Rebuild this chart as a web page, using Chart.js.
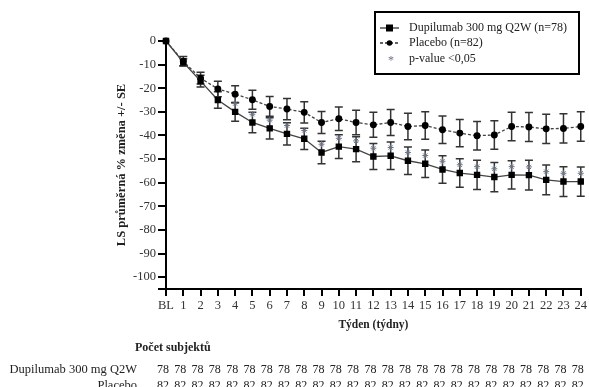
<!DOCTYPE html>
<html>
<head>
<meta charset="utf-8">
<script src="https://cdn.jsdelivr.net/npm/chart.js@4"></script>
<style>
  body { margin: 0; background: #fff; }
  #wrap { width: 589px; height: 387px; }
</style>
</head>
<body>
<div id="wrap"><canvas id="chart" width="589" height="387"></canvas></div>
<script>
const weeks = [0,1,2,3,4,5,6,7,8,9,10,11,12,13,14,15,16,17,18,19,20,21,22,23,24];
const dupilumab = [0,-9,-17,-25,-30,-34.5,-37,-39.3,-41.4,-47.2,-44.7,-45.8,-48.9,-48.6,-50.7,-52,-54.4,-55.9,-56.7,-57.6,-56.7,-56.8,-58.8,-59.5,-59.5];
const dupilumabSE = [0,1.5,2.5,3.5,4,4.3,4.5,4.7,4.5,4.8,5,5.3,5.5,5.8,5.8,5.8,5.8,6,6.2,6.2,6,6.3,6.3,6.3,6.2];
const placebo = [0,-8.6,-15.7,-20.3,-22.5,-24.9,-27.7,-28.8,-30.2,-34.5,-32.9,-34.5,-35.5,-34.5,-36.2,-35.8,-37.6,-39,-40.1,-39.8,-36.2,-36.4,-37.2,-37,-36.2];
const placeboSE = [0,2,2.5,3.3,3.6,4,4.2,4.5,4.5,4.7,5,5.2,5.3,5.5,5.6,5.8,5.8,5.8,6,6,6,6.1,6.2,6.2,6.2];
const sigWeeks = [4,5,6,7,8,9,10,11,12,13,14,15,16,17,18,19,20,21,22,23,24];
const nDupilumab = [78,78,78,78,78,78,78,78,78,78,78,78,78,78,78,78,78,78,78,78,78,78,78,78,78];
const nPlacebo = [82,82,82,82,82,82,82,82,82,82,82,82,82,82,82,82,82,82,82,82,82,82,82,82,82];
const yTicks = [0,-10,-20,-30,-40,-50,-60,-70,-80,-90,-100];

const serif = 'Liberation Serif';

const errorBars = {
  id: 'errorBars',
  beforeDatasetsDraw(chart) {
    const ctx = chart.ctx, x = chart.scales.x, y = chart.scales.y;
    ctx.save();
    ctx.strokeStyle = '#333';
    ctx.lineWidth = 1.5;
    chart.data.datasets.forEach(ds => {
      if (!ds.se) return;
      ds.data.forEach((p, i) => {
        const se = ds.se[i];
        if (!se) return;
        const px = x.getPixelForValue(p.x);
        const top = y.getPixelForValue(p.y + se);
        const bot = y.getPixelForValue(p.y - se);
        ctx.beginPath();
        ctx.moveTo(px, top); ctx.lineTo(px, bot);
        ctx.moveTo(px - 4, top); ctx.lineTo(px + 4, top);
        ctx.moveTo(px - 4, bot); ctx.lineTo(px + 4, bot);
        ctx.stroke();
      });
    });
    ctx.restore();
  }
};

const extras = {
  id: 'extras',
  afterDraw(chart) {
    const ctx = chart.ctx, x = chart.scales.x, area = chart.chartArea;
    ctx.save();
    // axis cross at the origin
    ctx.strokeStyle = '#000';
    ctx.lineWidth = 2;
    ctx.beginPath();
    ctx.moveTo(area.left - 8, area.bottom);
    ctx.lineTo(area.left, area.bottom);
    ctx.stroke();

    // legend box
    ctx.lineWidth = 2;
    ctx.strokeRect(375, 12, 204, 62);
    ctx.fillStyle = '#222';
    ctx.font = '12px "' + serif + '"';
    ctx.textBaseline = 'middle';
    ctx.textAlign = 'left';
    const rows = [
      { y: 28, text: 'Dupilumab 300 mg Q2W (n=78)', kind: 'rect' },
      { y: 43, text: 'Placebo (n=82)', kind: 'circle' },
      { y: 59, text: 'p-value <0,05', kind: 'star' }
    ];
    rows.forEach(r => {
      if (r.kind !== 'star') {
        ctx.strokeStyle = '#333';
        ctx.lineWidth = 1.3;
        ctx.setLineDash(r.kind === 'circle' ? [3, 2] : []);
        ctx.beginPath();
        ctx.moveTo(380, r.y); ctx.lineTo(399, r.y);
        ctx.stroke();
        ctx.setLineDash([]);
        ctx.fillStyle = '#000';
        if (r.kind === 'rect') ctx.fillRect(386, r.y - 3.5, 7, 7);
        else { ctx.beginPath(); ctx.arc(389.5, r.y, 2.8, 0, Math.PI * 2); ctx.fill(); }
      } else {
        ctx.fillStyle = '#6b7385';
        ctx.textAlign = 'center';
        ctx.fillText('*', 391, r.y + 2);
        ctx.textAlign = 'left';
      }
      ctx.fillStyle = '#222';
      ctx.fillText(r.text, 409, r.y);
    });

    // number of subjects table
    ctx.font = 'bold 12px "' + serif + '"';
    ctx.fillText('Počet subjektů', 135, 348);
    ctx.font = '12.5px "' + serif + '"';
    ctx.textAlign = 'right';
    ctx.fillText('Dupilumab 300 mg Q2W', 137, 370);
    ctx.fillText('Placebo', 137, 386);
    ctx.font = '12px "' + serif + '"';
    ctx.textAlign = 'center';
    weeks.forEach((w, i) => {
      const px = x.getPixelForValue(w) - 3;
      ctx.fillText(String(nDupilumab[i]), px, 370);
      ctx.fillText(String(nPlacebo[i]), px, 386);
    });
    ctx.restore();
  }
};

new Chart(document.getElementById('chart').getContext('2d'), {
  type: 'line',
  data: {
    datasets: [
      {
        label: 'Dupilumab 300 mg Q2W (n=78)',
        data: weeks.map((w, i) => ({ x: w, y: dupilumab[i] })),
        se: dupilumabSE,
        borderColor: '#444',
        borderWidth: 1.3,
        pointStyle: 'rect',
        pointRadius: 3.6,
        pointBackgroundColor: '#000',
        pointBorderColor: '#000',
        clip: false
      },
      {
        label: 'Placebo (n=82)',
        data: weeks.map((w, i) => ({ x: w, y: placebo[i] })),
        se: placeboSE,
        borderColor: '#444',
        borderWidth: 1.3,
        borderDash: [3, 2],
        pointStyle: 'circle',
        pointRadius: 2.8,
        pointBackgroundColor: '#000',
        pointBorderColor: '#000',
        clip: false
      },
      {
        label: 'p-value <0,05',
        data: sigWeeks.map(w => ({ x: w, y: dupilumab[w] + 3.5 })),
        showLine: false,
        pointStyle: 'star',
        pointRadius: 3,
        borderColor: '#6b7385',
        borderWidth: 1,
        clip: false
      }
    ]
  },
  options: {
    responsive: false,
    animation: false,
    layout: { padding: { left: 110, top: 41, right: 7, bottom: 54 } },
    plugins: { legend: { display: false }, tooltip: { enabled: false } },
    scales: {
      x: {
        type: 'linear',
        min: 0,
        max: 24,
        afterFit(scale) { scale.height = 44; },
        border: { color: '#000', width: 2 },
        grid: { drawOnChartArea: false, drawTicks: true, tickLength: 7, color: '#000', lineWidth: 2 },
        ticks: {
          stepSize: 1,
          autoSkip: false,
          maxRotation: 0,
          padding: 2,
          color: '#333',
          font: { family: serif, size: 12.5 },
          callback: v => v === 0 ? 'BL' : String(v)
        },
        title: {
          display: true,
          text: 'Týden (týdny)',
          color: '#222',
          font: { family: serif, size: 11.5, weight: 'bold' },
          padding: { top: 0, bottom: 1 }
        }
      },
      y: {
        min: -105,
        max: 0,
        afterFit(scale) { scale.width = 56; },
        afterBuildTicks(scale) { scale.ticks = yTicks.map(v => ({ value: v })); },
        border: { color: '#000', width: 2 },
        grid: { drawOnChartArea: false, drawTicks: true, tickLength: 8, color: '#000', lineWidth: 2 },
        ticks: {
          padding: 2,
          color: '#333',
          font: { family: serif, size: 12.5 }
        },
        title: {
          display: true,
          text: 'LS průměrná % změna +/- SE',
          color: '#222',
          font: { family: serif, size: 12.5, weight: 'bold' },
          padding: 4
        }
      }
    }
  },
  plugins: [errorBars, extras]
});
</script>
</body>
</html>
